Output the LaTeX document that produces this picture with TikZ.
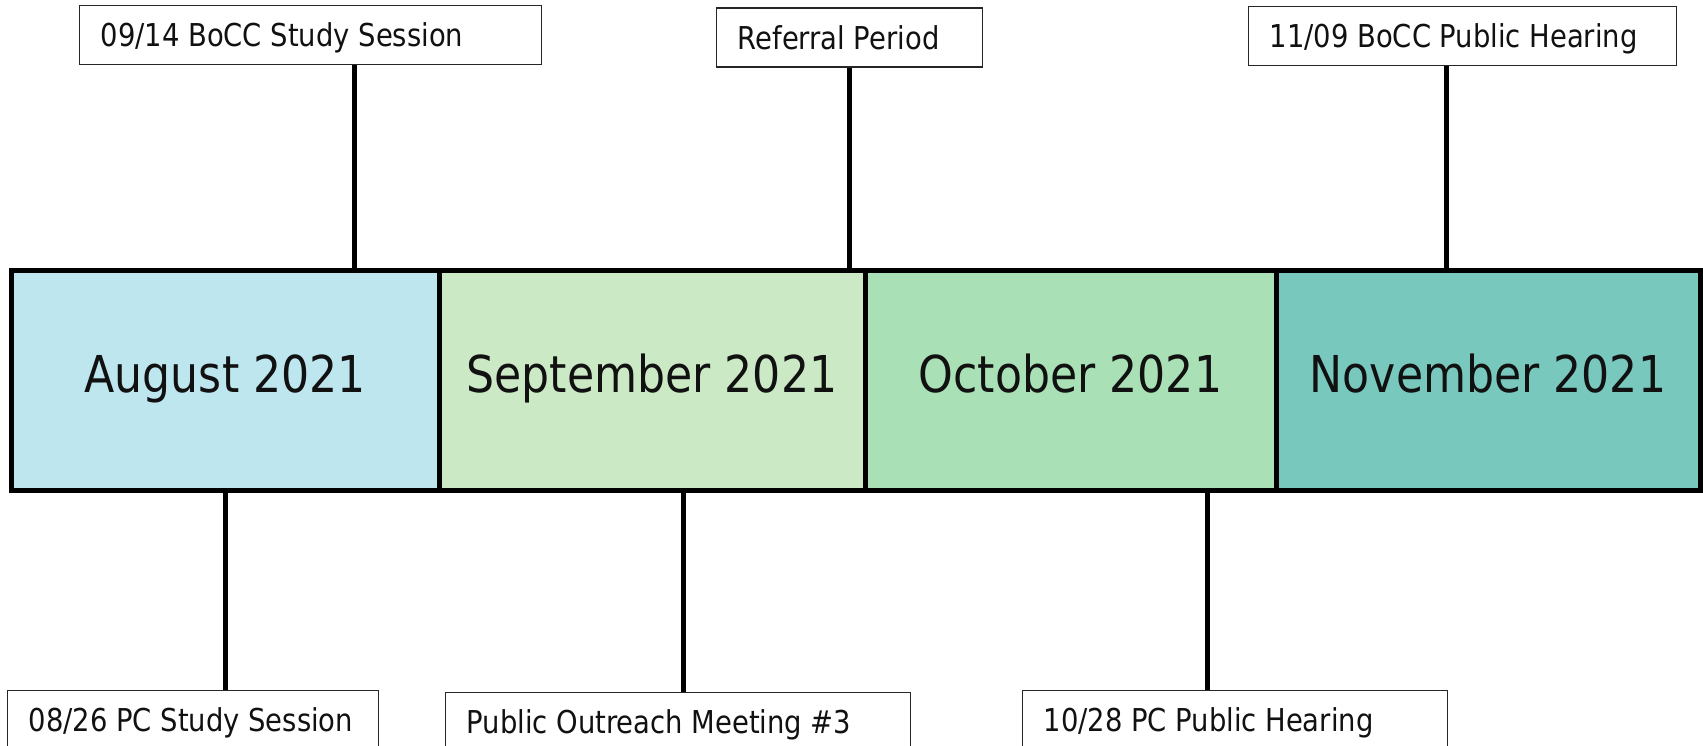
\documentclass[tikz,border=0pt]{standalone}
\usepackage{fontspec}
\setmainfont[FakeStretch=0.87]{DejaVu Sans}
\definecolor{augfill}{HTML}{BEE6EF}
\definecolor{sepfill}{HTML}{CCE9C5}
\definecolor{octfill}{HTML}{A9E0B5}
\definecolor{novfill}{HTML}{79C8BE}
\definecolor{ink}{HTML}{111111}
% left-aligned label of a fixed width
\newcommand{\evlabel}[2]{\makebox[#1][l]{#2}}
\begin{document}
\begin{tikzpicture}[x=1pt,y=-1pt,
  month/.style={draw=black,line width=5pt,rectangle,inner sep=0pt,
    minimum height=220pt,text=ink,
    font=\fontsize{50.8}{60}\selectfont,text height=37pt,text depth=13pt},
  event/.style={draw=black!85,line width=1.3pt,rectangle,anchor=north west,
    inner xsep=21pt,inner ysep=0pt,minimum height=59pt,text=ink,
    font=\fontsize{31.5}{36}\selectfont,text height=23pt,text depth=0pt},
  conn/.style={line width=5pt,black}]
\useasboundingbox (0,0) rectangle (1703,746);

% month bar
\node[month,fill=augfill,minimum width=427.5pt] (aug) at (225.25,380) {August 2021};
\node[month,fill=sepfill,minimum width=426pt] (sep) at (652,380) {September 2021};
\node[month,fill=octfill,minimum width=411pt] (oct) at (1070.5,380) {October 2021};
\node[month,fill=novfill,minimum width=424pt] (nov) at (1488,380) {November 2021};

% event labels above the bar
\node[event] (t1) at (79,5) {\evlabel{420pt}{09/14 BoCC Study Session}};
\node[event] (t2) at (716,7.5) {\evlabel{224pt}{Referral Period}};
\node[event] (t3) at (1248,6) {\evlabel{386pt}{11/09 BoCC Public Hearing}};

% event labels below the bar
\node[event] (b1) at (7,690) {\evlabel{329pt}{08/26 PC Study Session}};
\node[event] (b2) at (445,692) {\evlabel{423pt}{Public Outreach Meeting \#3}};
\node[event] (b3) at (1022,690) {\evlabel{383pt}{10/28 PC Public Hearing}};

% attachment points on the bar edges
\coordinate (pt1) at (354,268);
\coordinate (pt2) at (849,268);
\coordinate (pt3) at (1446,268);
\coordinate (pb1) at (225,492);
\coordinate (pb2) at (683,492);
\coordinate (pb3) at (1207,492);

\draw[conn] (t1.south -| pt1) -- (pt1);
\draw[conn] (t2.south -| pt2) -- (pt2);
\draw[conn] (t3.south -| pt3) -- (pt3);
\draw[conn] (pb1) -- (pb1 |- b1.north);
\draw[conn] (pb2) -- (pb2 |- b2.north);
\draw[conn] (pb3) -- (pb3 |- b3.north);
\end{tikzpicture}
\end{document}
